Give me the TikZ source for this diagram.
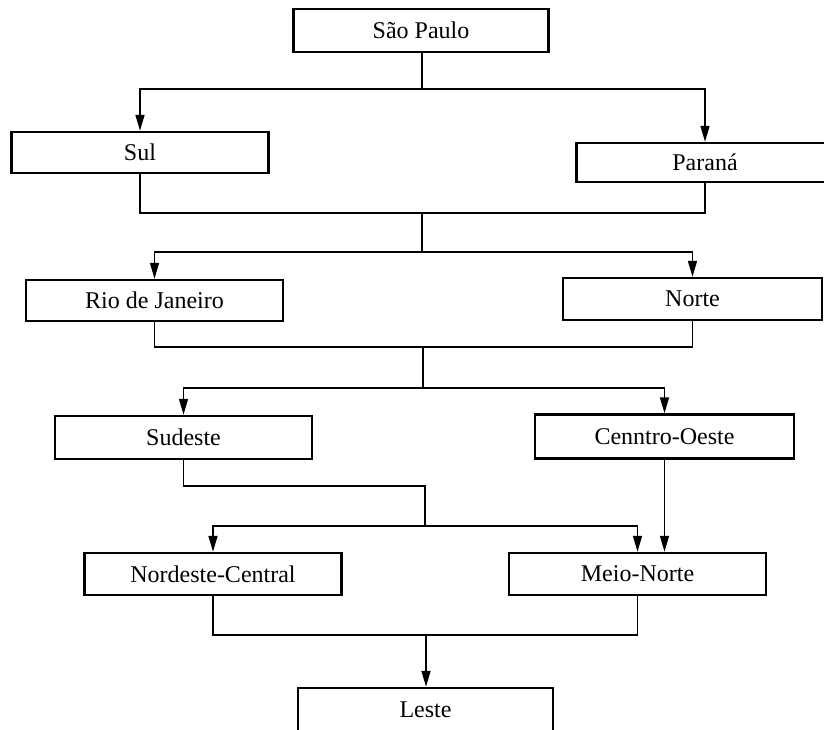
\documentclass[tikz,border=0pt]{standalone}
\usepackage{fontspec}
\setmainfont{Liberation Serif}
\usetikzlibrary{arrows.meta}
\begin{document}
\begin{tikzpicture}[x=1pt,y=-1pt,
  region/.style={draw, line width=2.5pt, minimum width=257pt, minimum height=42pt,
    inner sep=0pt, font=\fontsize{24}{28}\selectfont},
  conn/.style={line width=1.6pt},
  arr/.style={conn, -{Triangle[length=16pt,width=9pt]}}]
  \useasboundingbox (0,0) rectangle (824,729);
  \clip (0,0) rectangle (824,729);
  \fill[white] (0,0) rectangle (824,729);

  % regions
  \node[region, minimum width=255pt, minimum height=43pt] (sp)   at (421,30.5)  {São Paulo};
  \node[region, minimum height=41pt] (sul)  at (140,152.5) {Sul};
  \node[region, minimum height=39pt] (par)  at (705,162.5) {Paraná};
  \node[region, minimum height=41pt] (rio)  at (154.5,300.5) {Rio de Janeiro};
  \node[region, minimum width=259pt] (nor)  at (692.5,299) {Norte};
  \node[region, minimum height=43pt] (sud)  at (183.5,437.5) {Sudeste};
  \node[region, minimum width=259pt, minimum height=44pt] (cen) at (664.5,436.5) {Cenntro-Oeste};
  \node[region] (nec)  at (213,574)   {Nordeste-Central};
  \node[region] (mn)   at (637.5,574) {Meio-Norte};
  \node[region, minimum width=255pt, minimum height=44pt] (les) at (425.5,710) {Leste};

  % junction points
  \coordinate (j1) at (422,89);
  \coordinate (m1) at (422,213);
  \coordinate (j2) at (422,252);
  \coordinate (m2) at (423,347);
  \coordinate (j3) at (423,388);
  \coordinate (k3) at (425,486);
  \coordinate (j4) at (425,526);
  \coordinate (m4) at (426,635);

  % São Paulo -> Sul, Paraná
  \draw[conn] (sp.south -| j1) -- (j1);
  \draw[arr] (j1) -| (sul);
  \draw[arr] (j1) -| (par);

  % Sul, Paraná -> Rio de Janeiro, Norte
  \draw[conn] (sul) |- (m1) -| (par);
  \draw[conn] (m1) -- (j2);
  \draw[arr] (j2) -| (rio);
  \draw[arr] (j2) -| (nor);

  % Rio de Janeiro, Norte -> Sudeste, Cenntro-Oeste
  \draw[conn] (rio) |- (m2) -| (nor);
  \draw[conn] (m2) -- (j3);
  \draw[arr] (j3) -| (sud);
  \draw[arr] (j3) -| (cen);

  % Sudeste -> Nordeste-Central, Meio-Norte
  \draw[conn] (sud) |- (k3) -- (j4);
  \draw[arr] (j4) -| (nec);
  \draw[arr] (j4) -| (mn);

  % Cenntro-Oeste -> Meio-Norte
  \draw[arr] (cen.south) -- (cen.south |- mn.north);

  % Nordeste-Central, Meio-Norte -> Leste
  \draw[conn] (nec) |- (m4) -| (mn);
  \draw[arr] (m4) -- (m4 |- les.north);
\end{tikzpicture}
\end{document}
